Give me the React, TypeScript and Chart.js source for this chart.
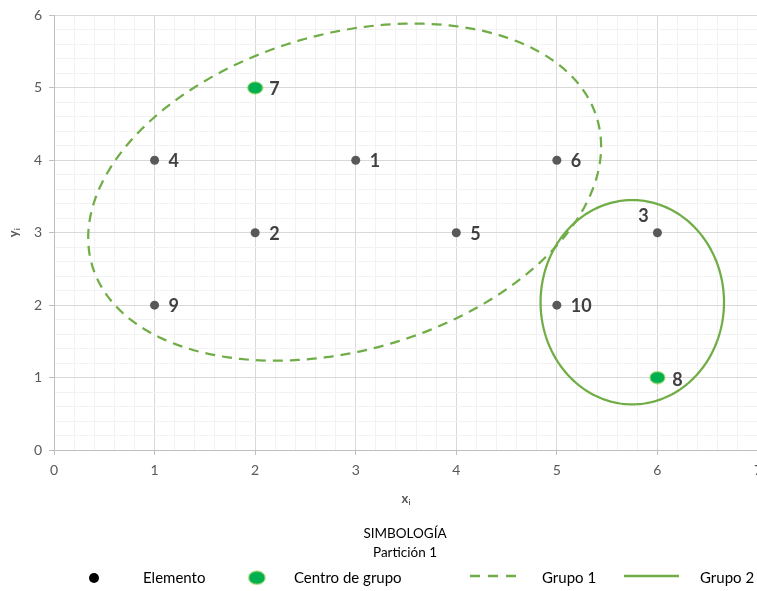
import React, { useEffect, useRef } from "react";
import { Chart, registerables } from "chart.js";

Chart.register(...registerables);

// ---- data ----
const POINT_IDS = ["1", "2", "3", "4", "5", "6", "7", "8", "9", "10"];
const POINT_X = [3, 2, 6, 1, 4, 5, 2, 6, 1, 5];
const POINT_Y = [4, 3, 3, 4, 3, 4, 5, 1, 2, 2];
const CENTER_IDS = ["7", "8"];

const X_MIN = 0;
const X_MAX = 7;
const Y_MIN = 0;
const Y_MAX = 6;
const MINOR_STEP = 0.2;

// group ellipses (data units): center, conjugate semi-diameters
const GROUP1_CENTER = [2.89, 3.56];
const GROUP1_U = [2.55, 0.63];
const GROUP1_V = [0, 2.24];
const GROUP2_CENTER = [5.75, 2.04];
const GROUP2_U = [0.912, 0];
const GROUP2_V = [0, 1.41];

const LEGEND_TITLE = ["SIMBOLOGÍA", "Partición 1"];
const LEGEND_LABELS = ["Elemento", "Centro de grupo", "Grupo 1", "Grupo 2"];

// ---- style ----
const FONT = "Lato, 'Open Sans', sans-serif";
const GREEN_LINE = "#70ad47";
const CENTER_FILL = "#00b050";
const CENTER_BORDER = "#92d050";
const LABEL_OFFSETS: Record<string, [number, number]> = {
  "3": [-14, -17],
  "8": [20, 3],
};

const isInt = (v: number) => Math.abs(v - Math.round(v)) < 1e-6;

function makeCenterImage(rx: number, ry: number) {
  const c = document.createElement("canvas");
  c.width = Math.ceil(rx * 2 + 2);
  c.height = Math.ceil(ry * 2 + 2);
  const g = c.getContext("2d")!;
  g.beginPath();
  g.ellipse(c.width / 2, c.height / 2, rx, ry, 0, 0, Math.PI * 2);
  g.fillStyle = CENTER_FILL;
  g.fill();
  g.lineWidth = 1;
  g.strokeStyle = CENTER_BORDER;
  g.stroke();
  return c;
}

function drawDataEllipse(chart: any, c: number[], u: number[], v: number[]) {
  const xs = chart.scales.x;
  const ys = chart.scales.y;
  const ctx = chart.ctx;
  ctx.beginPath();
  const n = 240;
  for (let i = 0; i <= n; i++) {
    const t = (i / n) * Math.PI * 2;
    const dx = c[0] + u[0] * Math.cos(t) + v[0] * Math.sin(t);
    const dy = c[1] + u[1] * Math.cos(t) + v[1] * Math.sin(t);
    const px = xs.getPixelForValue(dx);
    const py = ys.getPixelForValue(dy);
    if (i === 0) ctx.moveTo(px, py);
    else ctx.lineTo(px, py);
  }
  ctx.closePath();
  ctx.stroke();
}

export default function App() {
  const ref = useRef<HTMLCanvasElement | null>(null);

  useEffect(() => {
    const canvas = ref.current!;
    const centerImg = makeCenterImage(7.5, 6);

    const elementData: { x: number; y: number }[] = [];
    const centerData: { x: number; y: number }[] = [];
    POINT_IDS.forEach((id, i) => {
      const p = { x: POINT_X[i], y: POINT_Y[i] };
      if (CENTER_IDS.includes(id)) centerData.push(p);
      else elementData.push(p);
    });

    const overlay = {
      id: "overlay",
      beforeDatasetsDraw(chart: any) {
        const ctx = chart.ctx;
        ctx.save();
        ctx.strokeStyle = GREEN_LINE;
        ctx.lineWidth = 2.25;
        ctx.setLineDash([10, 7]);
        drawDataEllipse(chart, GROUP1_CENTER, GROUP1_U, GROUP1_V);
        ctx.setLineDash([]);
        drawDataEllipse(chart, GROUP2_CENTER, GROUP2_U, GROUP2_V);
        ctx.restore();
      },
      afterDatasetsDraw(chart: any) {
        const ctx = chart.ctx;
        const xs = chart.scales.x;
        const ys = chart.scales.y;
        ctx.save();
        ctx.font = `bold 18px ${FONT}`;
        ctx.fillStyle = "#404040";
        ctx.textBaseline = "middle";
        POINT_IDS.forEach((id, i) => {
          const px = xs.getPixelForValue(POINT_X[i]);
          const py = ys.getPixelForValue(POINT_Y[i]);
          const off = LABEL_OFFSETS[id];
          if (off) {
            ctx.textAlign = "center";
            ctx.fillText(id, px + off[0], py + off[1]);
          } else {
            ctx.textAlign = "left";
            ctx.fillText(id, px + 14, py + 1);
          }
        });
        ctx.restore();
      },
      afterDraw(chart: any) {
        const ctx = chart.ctx;
        const area = chart.chartArea;
        const cx = (area.left + area.right) / 2;
        ctx.save();
        ctx.fillStyle = "#595959";
        ctx.textBaseline = "alphabetic";
        // x axis title: x with subscript i
        ctx.font = `bold 13px ${FONT}`;
        const wX = ctx.measureText("x").width;
        ctx.font = `bold 8px ${FONT}`;
        const wI = ctx.measureText("i").width;
        const sx = cx - (wX + wI) / 2;
        ctx.font = `bold 13px ${FONT}`;
        ctx.fillText("x", sx, 503);
        ctx.font = `bold 8px ${FONT}`;
        ctx.fillText("i", sx + wX, 505);
        // y axis title rotated
        ctx.save();
        ctx.translate(18, (area.top + area.bottom) / 2);
        ctx.rotate(-Math.PI / 2);
        ctx.font = `bold 13px ${FONT}`;
        const wY = ctx.measureText("y").width;
        const sy = -(wY + wI) / 2;
        ctx.fillText("y", sy, 0);
        ctx.font = `bold 8px ${FONT}`;
        ctx.fillText("i", sy + wY, 2);
        ctx.restore();

        // legend
        ctx.fillStyle = "#000";
        ctx.font = `13.5px ${FONT}`;
        ctx.textAlign = "center";
        ctx.textBaseline = "middle";
        ctx.fillText(LEGEND_TITLE[0], 405, 534);
        ctx.fillText(LEGEND_TITLE[1], 405, 553);
        const rowY = 578;
        ctx.font = `15px ${FONT}`;
        ctx.textAlign = "left";
        // Elemento
        ctx.beginPath();
        ctx.arc(94, rowY, 5, 0, Math.PI * 2);
        ctx.fillStyle = "#000";
        ctx.fill();
        ctx.fillText(LEGEND_LABELS[0], 143, rowY);
        // Centro de grupo
        ctx.drawImage(centerImg, 256 - centerImg.width / 2, 577 - centerImg.height / 2, centerImg.width * 1.1, centerImg.height * 1.1);
        ctx.fillText(LEGEND_LABELS[1], 294, rowY);
        // Grupo 1
        ctx.strokeStyle = GREEN_LINE;
        ctx.lineWidth = 2.5;
        ctx.setLineDash([10, 8]);
        ctx.beginPath();
        ctx.moveTo(470, 576);
        ctx.lineTo(518, 576);
        ctx.stroke();
        ctx.fillText(LEGEND_LABELS[2], 542, rowY);
        // Grupo 2
        ctx.setLineDash([]);
        ctx.beginPath();
        ctx.moveTo(624, 576);
        ctx.lineTo(679, 576);
        ctx.stroke();
        ctx.fillText(LEGEND_LABELS[3], 700, rowY);
        ctx.restore();
      },
    };

    const axisCommon = (afterFit: (s: any) => void) => ({
      type: "linear" as const,
      ticks: {
        stepSize: MINOR_STEP,
        autoSkip: false,
        maxRotation: 0,
        color: "#595959",
        font: { family: FONT, size: 14 },
        padding: 7,
        callback: (v: any) => (isInt(Number(v)) ? String(Math.round(Number(v))) : ""),
      },
      grid: {
        color: (c: any) => (c.tick && isInt(c.tick.value) ? "#d9d9d9" : "#f2f2f2"),
        tickColor: (c: any) => (c.tick && isInt(c.tick.value) ? "#bfbfbf" : "rgba(0,0,0,0)"),
        tickLength: 5,
        lineWidth: 1,
      },
      border: { display: true, color: "#bfbfbf", width: 1 },
      afterFit,
    });

    const chart = new Chart(canvas, {
      type: "scatter",
      data: {
        datasets: [
          {
            label: LEGEND_LABELS[0],
            data: elementData,
            pointRadius: 4.5,
            pointBackgroundColor: "#595959",
            pointBorderWidth: 0,
            showLine: false,
          },
          {
            label: LEGEND_LABELS[1],
            data: centerData,
            pointStyle: centerImg as any,
            pointRadius: 8,
            showLine: false,
          },
        ],
      },
      options: {
        responsive: false,
        animation: false,
        events: [],
        layout: { padding: { top: 14, right: 42, left: 0, bottom: 0 } },
        plugins: { legend: { display: false }, tooltip: { enabled: false }, title: { display: false } },
        scales: {
          x: { ...axisCommon((s: any) => { s.height = 141; }), min: X_MIN, max: X_MAX },
          y: { ...axisCommon((s: any) => { s.width = 54; }), min: Y_MIN, max: Y_MAX },
        } as any,
      },
      plugins: [overlay],
    });
    return () => chart.destroy();
  }, []);

  return (
    <div
      style={{
        position: "fixed",
        left: 0,
        top: 0,
        width: 757,
        height: 591,
        overflow: "hidden",
        background: "#fff",
      }}
    >
      <canvas ref={ref} width={800} height={591} style={{ display: "block" }} />
    </div>
  );
}
